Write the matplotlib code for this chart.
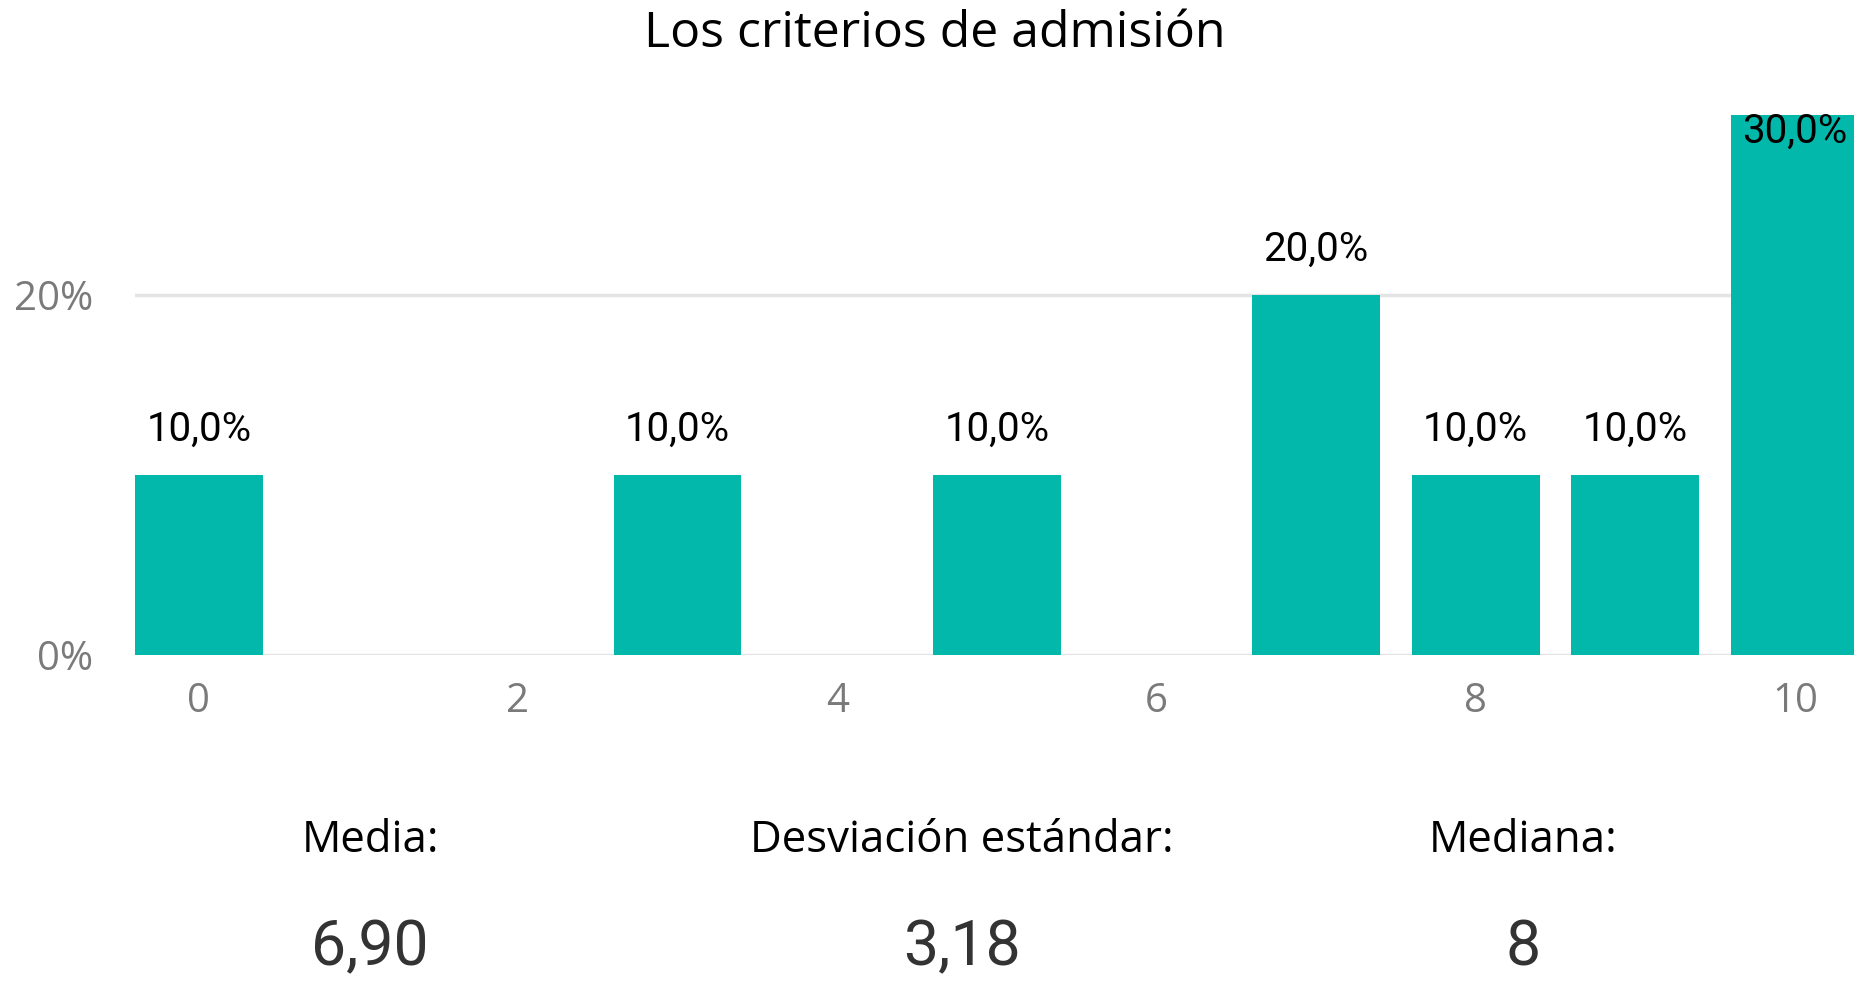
import numpy as np
import matplotlib.pyplot as plt
from matplotlib.ticker import FuncFormatter

# data
scores = [0, 1, 2, 3, 4, 5, 6, 7, 8, 9, 10]
percent = [10, 0, 0, 10, 0, 10, 0, 20, 10, 10, 30]
stat_names = ["Media:", "Desviación estándar:", "Mediana:"]
stat_values = ["6,90", "3,18", "8"]

bar_color = "#01B8AA"
grid_color = "#E4E4E4"

fig = plt.figure(figsize=(18.54, 9.84), dpi=100)
ax = fig.add_axes([0.0728, 0.3343, 1 - 0.0728, 0.5488])

ax.bar(scores, percent, width=0.8, color=bar_color, zorder=3)

ax.set_xlim(-0.4, 10.37)
ax.set_ylim(0, 30)
ax.set_yticks([0, 20])
ax.yaxis.set_major_formatter(FuncFormatter(lambda v, p: f"{v:.0f}%"))
ax.set_xticks([0, 2, 4, 6, 8, 10])
ax.grid(axis="y", color=grid_color, linewidth=2.5, zorder=0)
ax.set_axisbelow(True)
for s in ax.spines.values():
    s.set_visible(False)
ax.tick_params(axis="both", length=0, labelcolor="#7a7a7a", labelsize=29)
ax.tick_params(axis="y", pad=30)
ax.tick_params(axis="x", pad=19)
for lbl in ax.get_xticklabels() + ax.get_yticklabels():
    lbl.set_fontfamily("Open Sans")

# value labels
top = ax.get_ylim()[1]
for x, v in zip(scores, percent):
    if v == 0:
        continue
    txt = f"{v:.1f}%".replace(".", ",")
    if v >= top - 3:
        ax.annotate(txt, (x, v), xytext=(0, 2), textcoords="offset points",
                    ha="center", va="top", fontsize=29, family="Roboto",
                    color="black", zorder=4, annotation_clip=False)
    else:
        ax.annotate(txt, (x, v), xytext=(0, 19), textcoords="offset points",
                    ha="center", va="bottom", fontsize=29, family="Roboto",
                    color="black", zorder=4)

fig.text(0.504, 1 - 34 / 984, "Los criterios de admisión", ha="center", va="center",
         fontsize=36, family="Open Sans", color="black")

xs = [370 / 1854, 962 / 1854, 1523 / 1854]
for x, name, val in zip(xs, stat_names, stat_values):
    fig.text(x, 1 - 841 / 984, name, ha="center", va="center",
             fontsize=31.5, family="Open Sans", color="black")
    fig.text(x, 1 - 948 / 984, val, ha="center", va="center",
             fontsize=45, family="Roboto", color="#333333")

fig.savefig("out.png", dpi=100)
